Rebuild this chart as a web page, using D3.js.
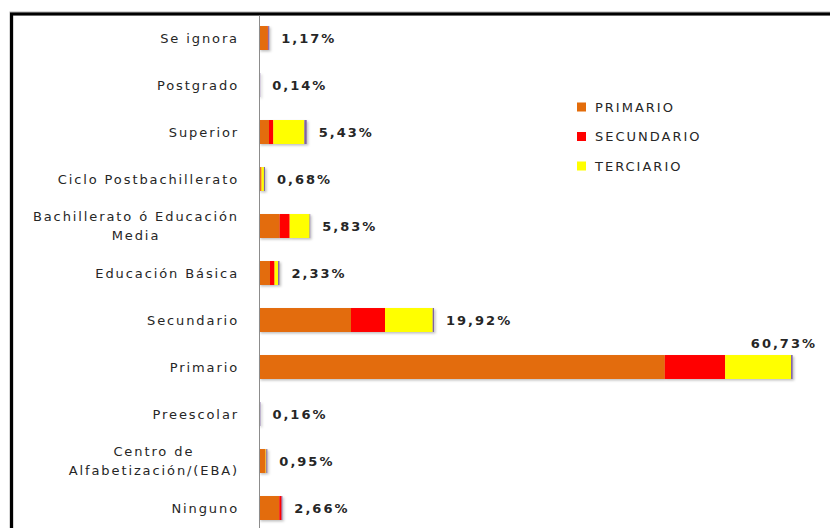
<!DOCTYPE html>
<html>
<head>
<meta charset="utf-8">
<script src="https://cdn.jsdelivr.net/npm/d3@7"></script>
<style>
  html, body { margin: 0; padding: 0; background: #fff; }
  svg { display: block; }
</style>
</head>
<body>
<svg id="chart" width="830" height="528"></svg>
<script>
// Education level categories, top to bottom
const categories = [
  "Se ignora",
  "Postgrado",
  "Superior",
  "Ciclo Postbachillerato",
  "Bachillerato ó Educación\nMedia",
  "Educación Básica",
  "Secundario",
  "Primario",
  "Preescolar",
  "Centro de\nAlfabetización/(EBA)",
  "Ninguno"
];

// Stacked shares (%) per category
const primario   = [1.00, 0.02, 1.14, 0.20, 2.35, 1.25, 10.47, 46.18, 0.00, 0.72, 2.31];
const secundario = [0.05, 0.00, 0.49, 0.08, 1.14, 0.52,  3.87,  6.87, 0.00, 0.03, 0.26];
const terciario  = [0.00, 0.00, 3.53, 0.28, 2.27, 0.40,  5.43,  7.50, 0.00, 0.08, 0.00];
const otros      = [0.12, 0.12, 0.27, 0.12, 0.07, 0.16,  0.15,  0.18, 0.16, 0.12, 0.09];

// Total labels shown next to each bar
const totalLabels = ["1,17%", "0,14%", "5,43%", "0,68%", "5,83%", "2,33%", "19,92%", "60,73%", "0,16%", "0,95%", "2,66%"];

const seriesNames = ["PRIMARIO", "SECUNDARIO", "TERCIARIO", "OTROS"];
const legendNames = ["PRIMARIO", "SECUNDARIO", "TERCIARIO"];
const colors = { PRIMARIO: "#e36c0a", SECUNDARIO: "#ff0000", TERCIARIO: "#ffff00", OTROS: "#8064a2" };

const rows = categories.map((c, i) => ({
  cat: c,
  PRIMARIO: primario[i],
  SECUNDARIO: secundario[i],
  TERCIARIO: terciario[i],
  OTROS: otros[i],
  label: totalLabels[i]
}));

const svg = d3.select("#chart");
const W = 830, H = 528;
const axisX = 259;

const x = d3.scaleLinear().domain([0, 65]).range([axisX, axisX + 65 * 8.787]);
const y = d3.scaleBand().domain(categories).range([14.5, 531.5]).paddingInner(0.49).paddingOuter(0.245);

// Soft shadow under the bars
const defs = svg.append("defs");
const f = defs.append("filter").attr("id", "shadow").attr("x", "-10%").attr("y", "-20%").attr("width", "130%").attr("height", "160%");
f.append("feDropShadow").attr("dx", 1.5).attr("dy", 1.5).attr("stdDeviation", 1).attr("flood-color", "#000").attr("flood-opacity", 0.25);

// Outer frame
svg.append("rect").attr("x", 11.5).attr("y", 13.5).attr("width", W + 20).attr("height", H + 20)
  .attr("fill", "none").attr("stroke", "#b0b0b0").attr("stroke-width", 4);
svg.append("rect").attr("x", 11.5).attr("y", 14).attr("width", W + 20).attr("height", H + 20)
  .attr("fill", "none").attr("stroke", "#000").attr("stroke-width", 3);

// Stacked bars
const stack = d3.stack().keys(seriesNames);
const stacked = stack(rows);

const barsG = svg.append("g").attr("filter", "url(#shadow)");
barsG.selectAll("g.series")
  .data(stacked)
  .join("g")
  .attr("class", "series")
  .attr("fill", d => colors[d.key])
  .selectAll("rect")
  .data(d => d)
  .join("rect")
  .attr("x", d => x(d[0]))
  .attr("y", d => y(d.data.cat))
  .attr("width", d => Math.max(0, x(d[1]) - x(d[0])))
  .attr("height", y.bandwidth());

// Category axis
const axis = d3.axisLeft(y).tickSize(0).tickPadding(22).tickFormat(() => "");
const axisG = svg.append("g").attr("transform", `translate(${axisX},0)`).call(axis);
axisG.select(".domain").remove();
svg.append("line").attr("x1", axisX + 0.5).attr("x2", axisX + 0.5).attr("y1", 15.5).attr("y2", H)
  .attr("stroke", "#8c8c8c").attr("stroke-width", 1);

// Category labels, multi-line labels centered as a block
axisG.selectAll(".tick").each(function(cat) {
  const lines = cat.split("\n");
  const g = d3.select(this);
  g.select("text").remove();
  const t = g.append("text")
    .attr("font-family", "DejaVu Sans, Verdana, sans-serif")
    .attr("font-size", 13)
    .attr("letter-spacing", 1.9)
    .attr("fill", "#262626");
  const lh = 19;
  lines.forEach((ln, i) => {
    t.append("tspan").attr("x", 0).attr("y", (i - (lines.length - 1) / 2) * lh).attr("dy", "0.35em").text(ln);
  });
  if (lines.length === 1) {
    t.attr("text-anchor", "end").selectAll("tspan").attr("x", -20);
  } else {
    let maxW = 0;
    t.selectAll("tspan").each(function() { maxW = Math.max(maxW, this.getComputedTextLength()); });
    t.attr("text-anchor", "middle").selectAll("tspan").attr("x", -20 - maxW / 2);
  }
});

// Total value labels
svg.append("g").selectAll("text")
  .data(rows)
  .join("text")
  .attr("font-family", "DejaVu Sans, Verdana, sans-serif")
  .attr("font-size", 13)
  .attr("font-weight", "bold")
  .attr("letter-spacing", 2)
  .attr("fill", "#262626")
  .each(function(d) {
    const total = d.PRIMARIO + d.SECUNDARIO + d.TERCIARIO + d.OTROS;
    const end = x(total);
    const cy = y(d.cat) + y.bandwidth() / 2;
    const sel = d3.select(this).text(d.label);
    if (end + 13 + 70 > 820) {
      sel.attr("x", 817).attr("y", y(d.cat) - 12).attr("dy", "0.35em").attr("text-anchor", "end");
    } else {
      sel.attr("x", end + 12).attr("y", cy).attr("dy", "0.35em").attr("text-anchor", "start");
    }
  });

// Legend
const legend = svg.append("g").attr("transform", "translate(577,107)");
const li = legend.selectAll("g").data(legendNames).join("g")
  .attr("transform", (d, i) => `translate(0,${i * 29.5})`);
li.append("rect").attr("x", 0).attr("y", -4.5).attr("width", 9).attr("height", 9).attr("fill", d => colors[d]);
li.append("text").attr("x", 18).attr("y", 0).attr("dy", "0.35em")
  .attr("font-family", "DejaVu Sans, Verdana, sans-serif")
  .attr("font-size", 13)
  .attr("letter-spacing", 2)
  .attr("fill", "#262626")
  .text(d => d);
</script>
</body>
</html>
